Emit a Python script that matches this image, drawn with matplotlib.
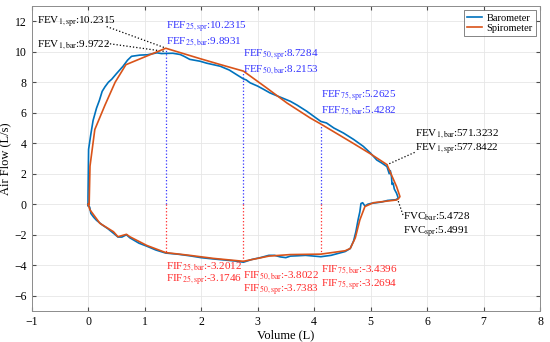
import numpy as np
import matplotlib
matplotlib.use('Agg')
import matplotlib.pyplot as plt

plt.rcParams['font.family'] = ['Liberation Serif', 'DejaVu Serif']
plt.rcParams['mathtext.fontset'] = 'stix'

# barometer trace (volume L, flow L/s)
bar_vol = [0.0, 0.0, 0.005, 0.01, 0.05, 0.09, 0.15, 0.2, 0.25, 0.3, 0.36, 0.42, 0.5, 0.62,
           0.7, 0.77, 0.92, 1.05, 1.22, 1.3, 1.375, 1.5, 1.63, 1.7, 1.8, 1.98, 2.1, 2.34,
           2.5, 2.65, 2.75, 2.8, 2.87, 3.0, 3.1, 3.22, 3.35, 3.45, 3.58, 3.7, 3.87, 4.0,
           4.12, 4.22, 4.35, 4.52, 4.7, 4.87, 5.0, 5.11, 5.2, 5.29, 5.33, 5.35, 5.37, 5.38,
           5.4, 5.42, 5.46, 5.49,
           5.45, 5.3, 5.2, 5.1, 5.0, 4.95, 4.9, 4.86, 4.83, 4.81, 4.78, 4.74, 4.7, 4.64,
           4.55, 4.45, 4.3, 4.12, 4.0, 3.85, 3.7, 3.58, 3.5, 3.4, 3.3, 3.2, 3.05, 2.9, 2.75,
           2.6, 2.4, 2.2, 2.0, 1.8, 1.6, 1.375, 1.2, 1.04, 0.9, 0.74, 0.68, 0.6, 0.53, 0.45,
           0.35, 0.25, 0.15, 0.1, 0.05, 0.03, 0.0]
bar_flow = [-0.1, 0.5, 2.0, 3.6, 4.6, 5.5, 6.3, 6.8, 7.4, 7.7, 8.0, 8.2, 8.55, 9.05,
            9.45, 9.7, 9.78, 9.8, 9.93, 9.88, 9.89, 9.9, 9.82, 9.7, 9.5, 9.38, 9.25, 9.05,
            8.8, 8.45, 8.22, 8.15, 7.96, 7.75, 7.55, 7.3, 7.1, 6.95, 6.75, 6.5, 6.1, 5.75,
            5.43, 5.33, 5.0, 4.67, 4.25, 3.8, 3.35, 2.9, 2.7, 2.47, 2.0, 2.2, 1.8, 1.3,
            1.38, 1.0, 0.72, 0.4,
            0.3, 0.25, 0.15, 0.1, 0.05, 0.0, -0.12, 0.1, 0.05, -0.5, -1.0, -1.8, -2.4, -2.9,
            -3.1, -3.2, -3.35, -3.44, -3.4, -3.35, -3.38, -3.4, -3.5, -3.45, -3.35, -3.35,
            -3.5, -3.62, -3.8, -3.72, -3.65, -3.58, -3.5, -3.38, -3.28, -3.2, -3.0, -2.75,
            -2.55, -2.2, -2.0, -2.15, -2.15, -1.9, -1.6, -1.35, -1.05, -0.85, -0.6, -0.2, 0.0]

# spirometer trace
spr_vol = [0.02, 0.035, 0.12, 0.3, 0.48, 0.67, 1.375, 1.98, 2.34, 2.75, 3.16, 3.52, 3.93,
           4.12, 4.69, 5.0, 5.29, 5.46, 5.52, 5.49, 5.46, 5.05, 4.9, 4.81, 4.73, 4.64, 4.55,
           4.12, 3.58, 3.2, 2.75, 2.22, 1.8, 1.375, 1.04, 0.74, 0.68, 0.53, 0.45, 0.21,
           0.035, 0.0]
spr_flow = [0.0, 2.5, 4.9, 6.5, 8.0, 9.15, 10.23, 9.55, 9.16, 8.73, 7.63, 6.64, 5.66,
            5.26, 4.0, 3.3, 2.6, 1.16, 0.5, 0.35, 0.28, 0.1, -0.15, -1.03, -2.2, -2.9, -3.05,
            -3.27, -3.3, -3.4, -3.74, -3.55, -3.35, -3.17, -2.7, -2.13, -1.97, -2.13, -1.8,
            -1.25, -0.37, 0.0]

# marker volumes and values
pct_vol = [1.375, 2.75, 4.12]
pct_names = ['25', '50', '75']
fef_spr = [10.2315, 8.7284, 5.2625]
fef_bar = [9.8931, 8.2153, 5.4282]
fif_bar = [-3.2012, -3.8022, -3.4396]
fif_spr = [-3.1746, -3.7383, -3.2694]

c_bar = '#0072BD'
c_spr = '#D95319'
c_fef = '#3333ff'
c_fif = '#ff2a2a'

fig = plt.figure(figsize=(5.5, 3.42), dpi=100)
ax = fig.add_axes([0.0573, 0.0906, 0.9247, 0.8919])

ax.plot(bar_vol, bar_flow, color=c_bar, lw=1.2, label='Barometer', zorder=3)
ax.plot(spr_vol, spr_flow, color=c_spr, lw=1.2, label='Spirometer', zorder=3)

fs = 8
for i in range(3):
    v = pct_vol[i]
    ax.plot([v, v], [0, fef_spr[i]], ls=':', color=c_fef, lw=0.9, zorder=2)
    ax.plot([v, v], [0, fif_spr[i]], ls=':', color=c_fif, lw=0.9, zorder=2)

# FEF labels
fef_y = [(11.57, 10.6), (9.75, 8.77), (7.07, 6.09)]
for i in range(3):
    n = pct_names[i]
    ax.text(pct_vol[i], fef_y[i][0], r'FEF$_{\mathrm{%s,spr}}$:%.4f' % (n, fef_spr[i]),
            color=c_fef, fontsize=fs, va='center', ha='left')
    ax.text(pct_vol[i], fef_y[i][1], r'FEF$_{\mathrm{%s,bar}}$:%.4f' % (n, fef_bar[i]),
            color=c_fef, fontsize=fs, va='center', ha='left')

# FIF labels
fif_y = [(-4.1, -5.0), (-4.72, -5.64), (-4.34, -5.33)]
for i in range(3):
    n = pct_names[i]
    ax.text(pct_vol[i], fif_y[i][0], r'FIF$_{\mathrm{%s,bar}}$:%.4f' % (n, fif_bar[i]),
            color=c_fif, fontsize=fs, va='center', ha='left')
    ax.text(pct_vol[i], fif_y[i][1], r'FIF$_{\mathrm{%s,spr}}$:%.4f' % (n, fif_spr[i]),
            color=c_fif, fontsize=fs, va='center', ha='left')

# FEV1 at peak
ax.text(-0.9, 11.95, r'FEV$_{\mathrm{1,spr}}$:10.2315', fontsize=fs, va='center')
ax.text(-0.9, 10.45, r'FEV$_{\mathrm{1,bar}}$:9.9722', fontsize=fs, va='center')
ax.plot([0.33, 1.36], [11.65, 10.26], ls=':', color='k', lw=0.9)
ax.plot([0.33, 1.36], [10.55, 10.02], ls=':', color='k', lw=0.9)

# FEV1 right
ax.text(5.79, 4.56, r'FEV$_{\mathrm{1,bar}}$:571.3232', fontsize=fs, va='center')
ax.text(5.79, 3.6, r'FEV$_{\mathrm{1,spr}}$:577.8422', fontsize=fs, va='center')
ax.plot([5.78, 5.29], [3.4, 2.59], ls=':', color='k', lw=0.9)

# FVC
ax.text(5.58, -0.83, r'FVC$_{\mathrm{bar}}$:5.4728', fontsize=fs, va='center')
ax.text(5.58, -1.82, r'FVC$_{\mathrm{spr}}$:5.4991', fontsize=fs, va='center')
ax.plot([5.49, 5.58], [0.2, -0.77], ls=':', color='k', lw=0.9)

ax.set_xlim(-1, 8)
ax.set_ylim(-7, 13)
ax.set_xticks(range(-1, 9))
ax.set_yticks(range(-6, 13, 2))
ax.grid(True, color='#e6e6e6', lw=0.6)
ax.set_axisbelow(True)
ax.tick_params(direction='in', labelsize=8.5, length=3, color='0.3', top=True, right=True)
for s in ax.spines.values():
    s.set_color('0.55')
    s.set_linewidth(0.7)
ax.set_xlabel('Volume (L)', fontsize=9, labelpad=1)
ax.set_ylabel('Air Flow (L/s)', fontsize=9, labelpad=2)

leg = ax.legend(loc='upper right', fontsize=7.5, frameon=True, fancybox=False,
                handlelength=1.5, borderpad=0.3, labelspacing=0.1, handletextpad=0.4,
                borderaxespad=0.4)
leg.get_frame().set_edgecolor('0.3')
leg.get_frame().set_linewidth(0.6)

fig.savefig('out.png', dpi=100)
